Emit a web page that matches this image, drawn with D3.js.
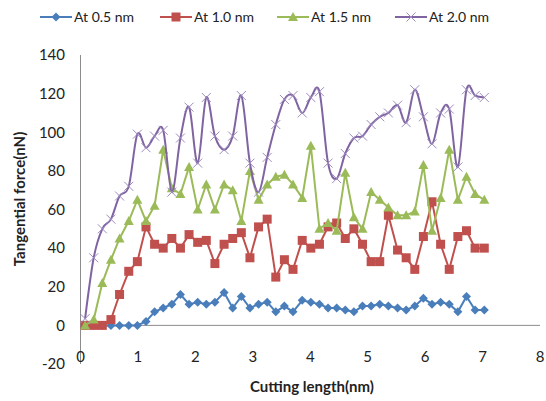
<!DOCTYPE html>
<head>
<meta charset="utf-8">
<script src="https://d3js.org/d3.v7.min.js"></script>
</head>
<style>
body { margin: 0; background: #fff; }
text { font-family: Lato, "Open Sans", sans-serif; fill: #222; }
.axis-line { stroke: #8c8c8c; stroke-width: 1px; }
</style>
<body>
<script>
// cutting length (nm) for each sample
var xs = [0.08,0.23,0.38,0.53,0.68,0.84,0.99,1.14,1.29,1.44,1.59,1.74,1.89,2.04,2.19,2.34,
          2.50,2.65,2.80,2.95,3.10,3.25,3.40,3.55,3.70,3.86,4.01,4.16,4.31,4.46,4.61,4.76,
          4.91,5.06,5.21,5.36,5.52,5.67,5.82,5.97,6.12,6.27,6.42,6.57,6.72,6.87,7.03];
var at05 = [0,0,0,0,0,0,0,2,7,9,11,16,11,12,11,12,17,9,15,9,11,12,7,10,7,13,12,
            11,9,9,8,7,10,10,11,10,9,8,10,14,11,12,11,7,15,8,8];
var at10 = [0,0,0,3,16,28,33,51,42,40,45,40,47,43,44,32,42,45,48,35,51,55,25,34,29,44,40,
            42,51,53,45,50,42,33,33,57,39,35,29,46,64,42,29,46,49,40,40];
var at15 = [0,3,22,34,45,54,65,54,62,91,71,68,82,60,73,60,73,70,54,80,65,73,77,78,73,66,93,
            50,53,49,79,56,50,69,65,61,57,57,59,83,49,66,91,65,77,68,65];
var at20 = [3.5,35,50,55,67,72,99,92,98,101,69,97,113,84,118,98,91,98,119,84,69,87,104,117,119,110,118,
            121,84,76,89,97,98,104,108,110,114,105,122,108,94,110,112,82,122,119,118];
var xTicks = [0,1,2,3,4,5,6,7,8];
var yTicks = [-20,0,20,40,60,80,100,120,140];

var series = [
  {name: "At 0.5 nm", values: at05, color: "#4A7EBB", marker: "diamond", smooth: false},
  {name: "At 1.0 nm", values: at10, color: "#C0504D", marker: "square", smooth: false},
  {name: "At 1.5 nm", values: at15, color: "#9BBB59", marker: "triangle", smooth: false},
  {name: "At 2.0 nm", values: at20, color: "#8064A2", marker: "x", smooth: true}
];

var width = 546, height = 401;
var svg = d3.select("body").append("svg")
    .attr("width", width)
    .attr("height", height);

var x = d3.scaleLinear().domain([0, 8]).range([80.5, 540]);
var y = d3.scaleLinear().domain([-20, 140]).range([364, 55]);

// axes
svg.append("line").attr("class", "axis-line")
    .attr("x1", x(0)).attr("x2", x(0)).attr("y1", y(140)).attr("y2", y(-20));
svg.append("line").attr("class", "axis-line")
    .attr("x1", x(0)).attr("x2", x(8)).attr("y1", y(0)).attr("y2", y(0));

svg.selectAll(".ytick").data(yTicks).enter().append("text")
    .attr("class", "ytick")
    .attr("x", 65)
    .attr("y", function(d) { return y(d); })
    .attr("dy", "0.35em")
    .attr("text-anchor", "end")
    .style("font-size", "15px")
    .text(function(d) { return d; });

svg.selectAll(".xtick").data(xTicks).enter().append("text")
    .attr("class", "xtick")
    .attr("x", function(d) { return x(d); })
    .attr("y", 357)
    .attr("dy", "0.35em")
    .attr("text-anchor", "middle")
    .style("font-size", "15px")
    .text(function(d) { return d; });

svg.append("text")
    .attr("transform", "translate(20,199) rotate(-90)")
    .attr("text-anchor", "middle")
    .attr("dy", "0.35em")
    .style("font-size", "15px")
    .style("font-weight", "bold")
    .text("Tangential force(nN)");

svg.append("text")
    .attr("x", 312).attr("y", 387)
    .attr("text-anchor", "middle")
    .attr("dy", "0.35em")
    .style("font-size", "15px")
    .style("font-weight", "bold")
    .text("Cutting length(nm)");

function drawMarker(g, type, color) {
  if (type === "diamond") {
    g.append("path").attr("d", "M0,-4.5L4.5,0L0,4.5L-4.5,0Z").attr("fill", color);
  } else if (type === "square") {
    g.append("rect").attr("x", -4.5).attr("y", -4.5).attr("width", 9).attr("height", 9).attr("fill", color);
  } else if (type === "triangle") {
    g.append("path").attr("d", "M0,-5L5,4L-5,4Z").attr("fill", color);
  } else {
    g.append("path").attr("d", "M-4.5,-4.5L4.5,4.5M-4.5,4.5L4.5,-4.5")
      .attr("stroke", "#9d8bc0").attr("stroke-width", 1).attr("fill", "none");
  }
}

series.forEach(function(s) {
  var pts = s.values.map(function(v, i) { return [xs[i], v]; });
  var line = d3.line()
      .x(function(d) { return x(d[0]); })
      .y(function(d) { return y(d[1]); })
      .curve(s.smooth ? d3.curveCatmullRom.alpha(0) : d3.curveLinear);
  svg.append("path")
      .datum(pts)
      .attr("d", line)
      .attr("fill", "none")
      .attr("stroke", s.color)
      .attr("stroke-width", 2);
  svg.selectAll(null).data(pts).enter().append("g")
      .attr("transform", function(d) { return "translate(" + x(d[0]) + "," + y(d[1]) + ")"; })
      .each(function() { drawMarker(d3.select(this), s.marker, s.color); });
});

// legend
var legendX = [40, 160, 277, 395];
series.forEach(function(s, i) {
  var g = svg.append("g").attr("transform", "translate(" + legendX[i] + ",17)");
  g.append("line").attr("x1", 0).attr("x2", 32).attr("y1", 0).attr("y2", 0)
      .attr("stroke", s.color).attr("stroke-width", 2);
  var m = g.append("g").attr("transform", "translate(16,0)");
  drawMarker(m, s.marker, s.color);
  g.append("text").attr("x", 34).attr("y", 0).attr("dy", "0.35em")
      .style("font-size", "14px")
      .text(s.name);
});
</script>
</body>
